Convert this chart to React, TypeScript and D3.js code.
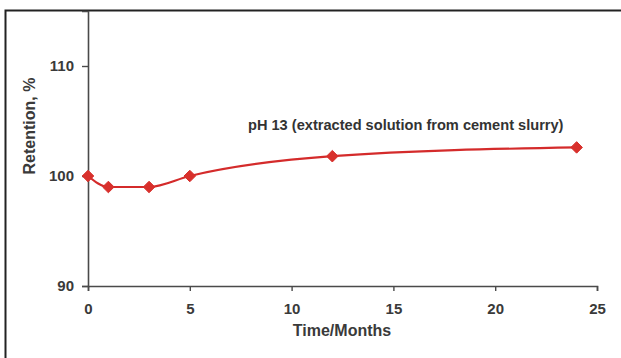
import * as d3 from "d3";
import { useEffect, useRef } from "react";

const months = [0, 1, 3, 5, 12, 24];
const retention = [100, 99, 99, 100, 101.8, 102.6];
const xTicks = [0, 5, 10, 15, 20, 25];
const yTicks = [90, 100, 110];
const seriesLabel = "pH 13 (extracted solution from cement slurry)";

export default function App() {
  const svgRef = useRef<SVGSVGElement>(null);

  useEffect(() => {
    const width = 621;
    const height = 358;
    const svg = d3.select(svgRef.current);
    svg.selectAll("*").remove();

    // outer frame (runs off right and bottom edges)
    svg.append("rect")
      .attr("x", 5.5).attr("y", 10.5)
      .attr("width", 640).attr("height", 360)
      .attr("fill", "white")
      .attr("stroke", "#222").attr("stroke-width", 2);

    const x = d3.scaleLinear().domain([0, 25]).range([88, 597]);
    const y = d3.scaleLinear().domain([90, 115]).range([286, 11]);

    const axisColor = "#4a4a4a";
    const font = "'Liberation Sans', Arial, sans-serif";

    // x axis
    const gx = svg.append("g").attr("transform", `translate(0,${y(90)})`);
    gx.call(d3.axisBottom(x).tickValues(xTicks).tickSize(5).tickPadding(12).tickFormat(d3.format("d")));
    // y axis
    const gy = svg.append("g").attr("transform", `translate(${x(0)},0)`);
    gy.call(d3.axisLeft(y).tickValues(yTicks).tickSize(6).tickPadding(8).tickFormat(d3.format("d")));

    [gx, gy].forEach(g => {
      g.select(".domain").attr("stroke", axisColor).attr("stroke-width", 1.6);
      g.selectAll(".tick line").attr("stroke", axisColor).attr("stroke-width", 1.4);
      g.selectAll(".tick text")
        .attr("fill", "#3a3a3a")
        .style("font-family", font)
        .style("font-weight", "bold")
        .style("font-size", "15px");
    });

    const data = months.map((m, i) => ({ m, v: retention[i] }));
    const line = d3.line<any>()
      .x(d => x(d.m))
      .y(d => y(d.v))
      .curve(d3.curveMonotoneX);

    svg.append("path")
      .datum(data)
      .attr("d", line)
      .attr("fill", "none")
      .attr("stroke", "#d42b2b")
      .attr("stroke-width", 2.2);

    const sym = d3.symbol().type(d3.symbolDiamond2).size(85);
    svg.selectAll("path.pt")
      .data(data)
      .enter()
      .append("path")
      .attr("class", "pt")
      .attr("transform", d => `translate(${x(d.m)},${y(d.v)})`)
      .attr("d", sym)
      .attr("fill", "#d8302c")
      .attr("stroke", "#d8302c")
      .attr("stroke-width", 1);

    svg.append("text")
      .attr("x", 248).attr("y", 130)
      .attr("fill", "#333")
      .style("font-family", font)
      .style("font-weight", "bold")
      .style("font-size", "14.6px")
      .text(seriesLabel);

    svg.append("text")
      .attr("transform", `translate(35,126) rotate(-90)`)
      .attr("text-anchor", "middle")
      .attr("fill", "#3a3a3a")
      .style("font-family", font)
      .style("font-weight", "bold")
      .style("font-size", "16px")
      .text("Retention, %");

    svg.append("text")
      .attr("x", 342).attr("y", 336)
      .attr("text-anchor", "middle")
      .attr("fill", "#3a3a3a")
      .style("font-family", font)
      .style("font-weight", "bold")
      .style("font-size", "16px")
      .text("Time/Months");

    svg.attr("width", width).attr("height", height);
  }, []);

  return (
    <svg
      ref={svgRef}
      width={621}
      height={358}
      style={{ position: "fixed", left: 0, top: 0, background: "white" }}
    />
  );
}
